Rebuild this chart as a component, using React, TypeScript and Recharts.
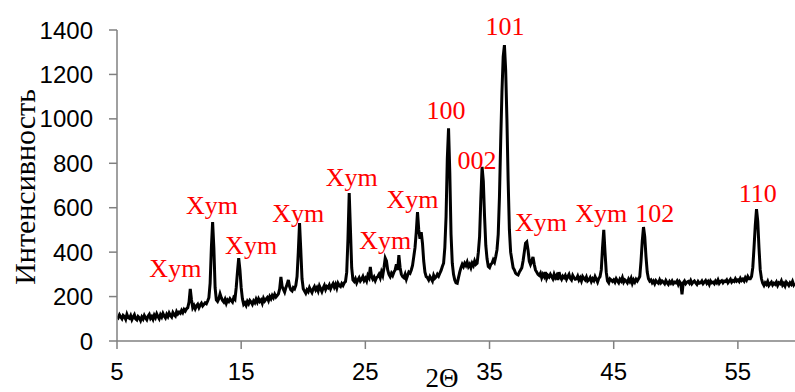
import { LineChart, Line, XAxis, YAxis, ReferenceDot } from "recharts"

// 2θ scan starts at 5° with a 0.1° step
const START = 5
const STEP = 0.1

// intensity, one row per degree (5.0–5.9, 6.0–6.9, ...)
const intensity = [
    112, 105, 118, 108, 100, 115, 110, 98, 120, 106,
    102, 114, 96, 108, 118, 100, 95, 110, 104, 92,
    108, 99, 115, 104, 96, 112, 120, 102, 110, 98,
    116, 105, 122, 110, 100, 118, 108, 124, 112, 104,
    120, 110, 126, 115, 108, 128, 118, 112, 132, 122,
    130, 125, 138, 128, 142, 135, 145, 150, 175, 235,
    185, 150, 160, 145, 158, 165, 150, 162, 170, 158,
    165, 172, 168, 180, 195, 260, 420, 535, 420, 240,
    185, 178, 190, 212, 195, 182, 175, 188, 170, 185,
    178, 190, 182, 175, 195, 188, 240, 310, 373, 320,
    240, 190, 165, 172, 160, 178, 168, 182, 175, 165,
    180, 172, 188, 175, 190, 178, 185, 170, 192, 180,
    188, 195, 182, 200, 190, 205, 195, 210, 198, 205,
    212, 235, 288, 245, 232, 220, 240, 255, 275, 245,
    230, 225, 240, 235, 250, 290, 400, 531, 410, 280,
    235, 225, 215, 230, 222, 240, 228, 218, 235, 245,
    230, 240, 225, 248, 235, 222, 238, 250, 232, 245,
    240, 252, 235, 248, 258, 242, 255, 238, 260, 250,
    245, 258, 250, 262, 268, 310, 460, 666, 500, 330,
    275, 268, 280, 262, 275, 285, 270, 278, 290, 272,
    282, 270, 295, 285, 333, 290, 278, 288, 272, 285,
    290, 300, 285, 310, 295, 330, 373, 360, 320, 300,
    290, 305, 295, 310, 320, 345, 320, 387, 330, 300,
    290, 285, 300, 278, 295, 310, 305, 320, 340, 380,
    420, 490, 580, 500, 460, 490, 440, 360, 310, 290,
    285, 275, 290, 280, 270, 295, 282, 288, 300, 292,
    305, 318, 335, 350, 420, 560, 820, 958, 760, 480,
    350, 300, 275, 262, 260, 285, 310, 330, 345, 335,
    350, 340, 355, 335, 345, 330, 350, 340, 360, 345,
    350, 400, 470, 640, 784, 720, 560, 430, 370, 335,
    330, 345, 350, 365, 355, 380, 410, 480, 650, 900,
    1120, 1280, 1332, 1220, 1000, 720, 500, 400, 365, 330,
    320, 305, 300, 297, 310, 320, 330, 360, 400, 440,
    446, 410, 360, 345, 360, 378, 345, 320, 310, 300,
    295, 305, 285, 300, 290, 310, 282, 295, 288, 300,
    290, 280, 300, 285, 295, 275, 310, 288, 278, 292,
    285, 295, 278, 290, 300, 282, 275, 295, 285, 278,
    280, 292, 275, 285, 270, 290, 282, 275, 288, 270,
    275, 285, 268, 280, 272, 290, 278, 265, 282, 290,
    320, 420, 500, 400, 310, 270, 262, 280, 275, 268,
    275, 265, 280, 270, 262, 278, 270, 285, 265, 275,
    270, 262, 278, 268, 282, 260, 275, 265, 278, 270,
    280, 290, 360, 450, 513, 470, 380, 310, 280, 270,
    275, 262, 270, 258, 272, 265, 260, 275, 262, 270,
    265, 258, 272, 262, 255, 268, 260, 270, 258, 265,
    262, 270, 255, 268, 260, 210, 262, 270, 258, 265,
    268, 260, 272, 258, 265, 270, 262, 255, 268, 260,
    262, 270, 258, 265, 272, 260, 268, 255, 270, 262,
    265, 258, 270, 262, 275, 260, 268, 272, 262, 270,
    268, 275, 262, 270, 278, 265, 272, 268, 280, 270,
    275, 268, 282, 272, 278, 270, 285, 275, 290, 280,
    280, 290, 330, 420, 520, 594, 540, 420, 320, 280,
    260, 250, 262, 255, 268, 250, 258, 265, 252, 260,
    255, 265, 250, 262, 258, 270, 252, 260, 248, 265,
    258, 250, 262, 255, 268, 252, 260,
]

const xTicks = [5, 15, 25, 35, 45, 55]
const yTicks = [0, 200, 400, 600, 800, 1000, 1200, 1400]

// peak labels: text, 2θ, intensity where the label sits
const peakNames = ["Xym", "Xym", "Xym", "Xym", "Xym", "Xym", "Xym", "100", "002", "101", "Xym", "Xym", "102", "110"]
const peakX = [9.7, 12.65, 15.8, 19.6, 23.9, 26.6, 28.8, 31.5, 34.0, 36.25, 39.15, 44.0, 48.3, 56.6]
const peakY = [330, 612, 432, 576, 738, 454, 639, 1040, 815, 1418, 536, 576, 576, 666]

const data = intensity.map((v, i) => ({ x: +(START + i * STEP).toFixed(1), y: v }))

const tickFont = { fontFamily: "'Liberation Sans', Arial, sans-serif", fontSize: 24, fill: "#000" }
const serif = "'Liberation Serif', 'Times New Roman', serif"

const App = () => {
    return <div style={{ position: "absolute", left: 0, top: 0 }}>
        <LineChart width={795} height={392} data={data} margin={{ top: 30, right: 0, bottom: 0, left: 0 }}>
            <XAxis
                dataKey="x"
                type="number"
                domain={[5, 59.6]}
                ticks={xTicks}
                allowDataOverflow
                height={51}
                tickSize={8}
                tickMargin={14}
                tick={tickFont}
                stroke="#808080"
                strokeWidth={1.5}
                label={{
                    content: () => <text x={442} y={378} textAnchor="middle" dominantBaseline="central"
                        fontFamily={serif} fontSize={27} fill="#000">2Θ</text>
                }}
            />
            <YAxis
                type="number"
                domain={[0, 1400]}
                ticks={yTicks}
                width={117}
                tickSize={8}
                tickMargin={16}
                tick={tickFont}
                stroke="#808080"
                strokeWidth={1.5}
                label={{
                    content: () => <text x={24} y={187} transform="rotate(-90 24 187)" textAnchor="middle"
                        dominantBaseline="central" fontFamily={serif} fontSize={30} fill="#000">Интенсивность</text>
                }}
            />
            <Line type="linear" dataKey="y" stroke="#000" strokeWidth={3} dot={false} isAnimationActive={false} />
            {peakNames.map((name, i) => (
                <ReferenceDot key={i} x={peakX[i]} y={peakY[i]} r={0} ifOverflow="visible" stroke="none"
                    label={{ value: name, position: "center", fill: "#ff0000", fontSize: 26, fontFamily: serif }} />
            ))}
        </LineChart>
    </div>
}

export default App
